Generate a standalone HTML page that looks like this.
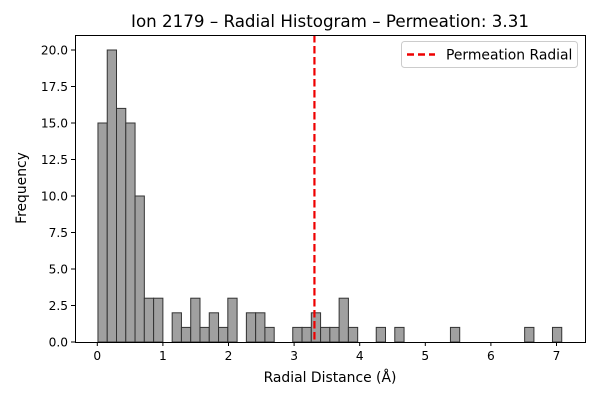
<!DOCTYPE html>
<html><head><meta charset="utf-8"><style>
html,body{margin:0;padding:0;background:#fff}
svg{display:block;font-family:"DejaVu Sans","Liberation Sans",sans-serif}
</style></head><body>
<svg id="chart" width="600" height="400">
<text x="330" y="27" font-size="16.7" text-anchor="middle">Ion 2179 – Radial Histogram – Permeation: 3.31</text>
<g id="bars"></g>
<g id="axes"></g>
<text x="330" y="382" font-size="13.9" text-anchor="middle">Radial Distance (Å)</text>
<text x="0" y="0" font-size="13.9" text-anchor="middle" transform="translate(26,188) rotate(-90)">Frequency</text>
<g>
<rect x="401.5" y="41.5" width="176" height="26" rx="3" fill="#fff" stroke="#ccc"/>
<line x1="407" y1="54.5" x2="435" y2="54.5" stroke="#e00" stroke-width="2.5" stroke-dasharray="7,4"/>
<text x="446" y="59.5" font-size="13.9">Permeation Radial</text>
</g>
</svg>
<script>
const binStart = 0.01;
const binWidth = 0.1414;
const counts = [15,20,16,15,10,3,3,0,2,1,3,1,2,1,3,0,2,2,1,0,0,1,1,2,1,1,3,1,0,0,1,0,1,0,0,0,0,0,1,0,0,0,0,0,0,0,1,0,0,1];
const xTicks = [0,1,2,3,4,5,6,7];
const yTicks = [0,2.5,5,7.5,10,12.5,15,17.5,20];
const yTickLabels = ["0.0","2.5","5.0","7.5","10.0","12.5","15.0","17.5","20.0"];
const permeation = 3.31;

const L=75,R=585,T=35,B=342;
const X0=97.3, XS=65.6;
function sx(v){return X0+v*XS;}
function sy(v){return B-v*14.6;}
const NS="http://www.w3.org/2000/svg";
function mk(t,a,p){const e=document.createElementNS(NS,t);for(const k in a)e.setAttribute(k,a[k]);p.appendChild(e);return e;}
const bars=document.getElementById('bars'), axes=document.getElementById('axes');
counts.forEach((c,i)=>{
  if(c<=0)return;
  const x1=sx(binStart+i*binWidth), x2=sx(binStart+(i+1)*binWidth);
  const r=mk('rect',{x:x1,y:sy(c),width:x2-x1,height:sy(0)-sy(c),fill:'#a0a0a0',stroke:'#333','stroke-width':1},bars);
  
  
});
const vl=mk('line',{x1:sx(permeation),x2:sx(permeation),y1:T,y2:B,stroke:'#e00','stroke-width':2.2,'stroke-dasharray':'7.5,3.5'},bars);


const fr=mk('rect',{x:L+0.5,y:T+0.5,width:R-L,height:B-T,fill:'none',stroke:'#000','stroke-width':1},axes);


xTicks.forEach(v=>{
  const x=sx(v);
  mk('line',{x1:x,x2:x,y1:B,y2:B+4,stroke:'#000'},axes);
  const t=mk('text',{x:x,y:B+18,'font-size':12.2,'text-anchor':'middle'},axes);
  t.textContent=v;
  
  
});
yTicks.forEach((v,i)=>{
  const y=sy(v);
  mk('line',{x1:L-4,x2:L,y1:y,y2:y,stroke:'#000'},axes);
  const t=mk('text',{x:L-7,y:y+4.5,'font-size':12.2,'text-anchor':'end'},axes);
  t.textContent=yTickLabels[i];
  
  
});
</script>
</body></html>
